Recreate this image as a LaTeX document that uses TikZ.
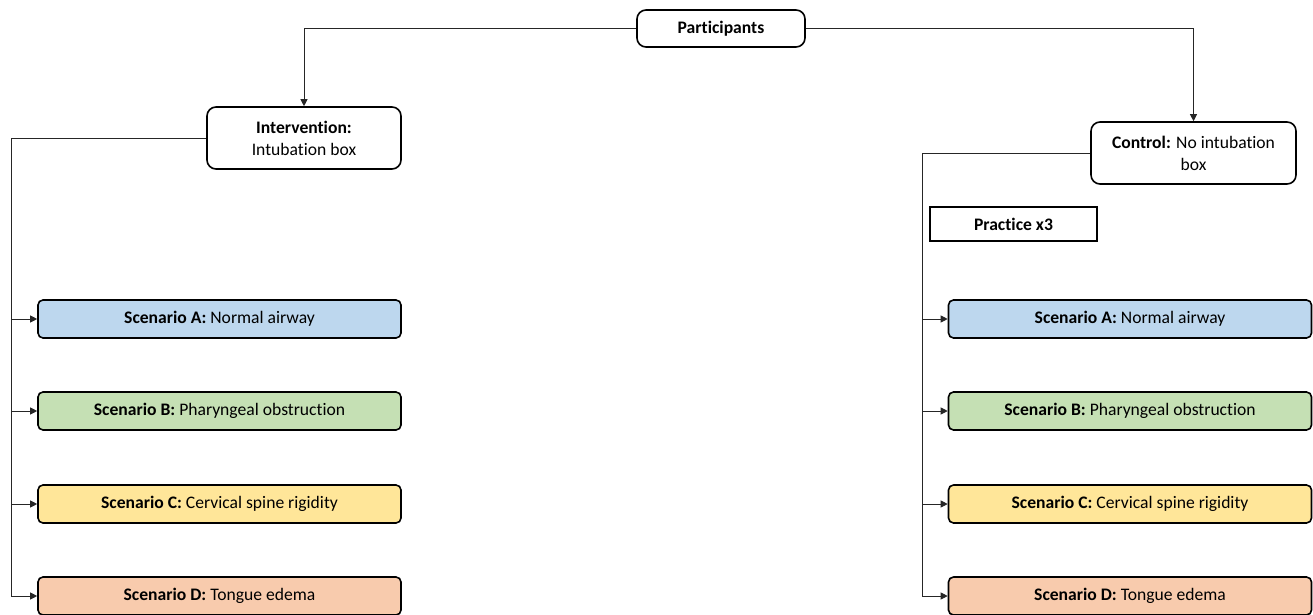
\documentclass[tikz,border=0pt]{standalone}
\usepackage{fontspec}
\setmainfont[Ligatures=NoCommon]{Carlito}
\usetikzlibrary{arrows.meta}
\definecolor{cA}{HTML}{BDD7EE}
\definecolor{cB}{HTML}{C5E0B4}
\definecolor{cC}{HTML}{FFE699}
\definecolor{cD}{HTML}{F8CBAD}
\definecolor{lnc}{HTML}{262626}
\tikzset{
  topbox/.style={draw=black, line width=1.6pt, rounded corners=9pt, fill=white, align=center, inner sep=0pt, font=\fontsize{17.6}{22}\selectfont},
  scbox/.style={draw=black, line width=1.6pt, rounded corners=5pt, minimum width=363pt, minimum height=38pt, inner sep=0pt, font=\fontsize{17.6}{22}\selectfont},
  pbox/.style={draw=black, line width=1.3pt, minimum width=167pt, minimum height=34pt, inner sep=0pt, font=\fontsize{17.6}{22}\selectfont},
  conn/.style={draw=lnc, line width=0.9pt},
  arr/.style={conn, -{Triangle[length=7pt,width=7pt]}}
}
\begin{document}
\begin{tikzpicture}[x=1pt,y=-1pt]
\useasboundingbox (0,0) rectangle (1313,615);
\node[topbox, minimum width=168pt, minimum height=37pt] (par) at (721,28.5) {\textbf{Participants}};
\node[topbox, minimum width=194pt, minimum height=62pt] (int) at (304,138) {\textbf{Intervention:}\\Intubation box};
\node[topbox, minimum width=205pt, minimum height=62pt] (con) at (1193.5,153) {\textbf{Control:} No intubation\\box};
\node[pbox] (pra) at (1013.5,224) {\textbf{Practice x3}};

\node[scbox, fill=cA] (la) at (219.5,319) {\textbf{Scenario A:} Normal airway};
\node[scbox, fill=cB] (lb) at (219.5,411) {\textbf{Scenario B:} Pharyngeal obstruction};
\node[scbox, fill=cC] (lc) at (219.5,504) {\textbf{Scenario C:} Cervical spine rigidity};
\node[scbox, fill=cD] (ld) at (219.5,596) {\textbf{Scenario D:} Tongue edema};

\node[scbox, fill=cA] (ra) at (1130,319) {\textbf{Scenario A:} Normal airway};
\node[scbox, fill=cB] (rb) at (1130,411) {\textbf{Scenario B:} Pharyngeal obstruction};
\node[scbox, fill=cC] (rc) at (1130,504) {\textbf{Scenario C:} Cervical spine rigidity};
\node[scbox, fill=cD] (rd) at (1130,596) {\textbf{Scenario D:} Tongue edema};

\coordinate (lt) at (11,138);
\coordinate (rt) at (922,153);

\draw[arr] (par.west) -| (int.north);
\draw[arr] (par.east) -| (con.north);

\draw[conn] (int.west) -- (lt) -- (lt |- ld.west);
\foreach \n in {la,lb,lc,ld} \draw[arr] (lt |- \n.west) -- (\n.west);

\draw[conn] (con.west) -- (rt) -- (rt |- rd.west);
\foreach \n in {ra,rb,rc,rd} \draw[arr] (rt |- \n.west) -- (\n.west);
\end{tikzpicture}
\end{document}
